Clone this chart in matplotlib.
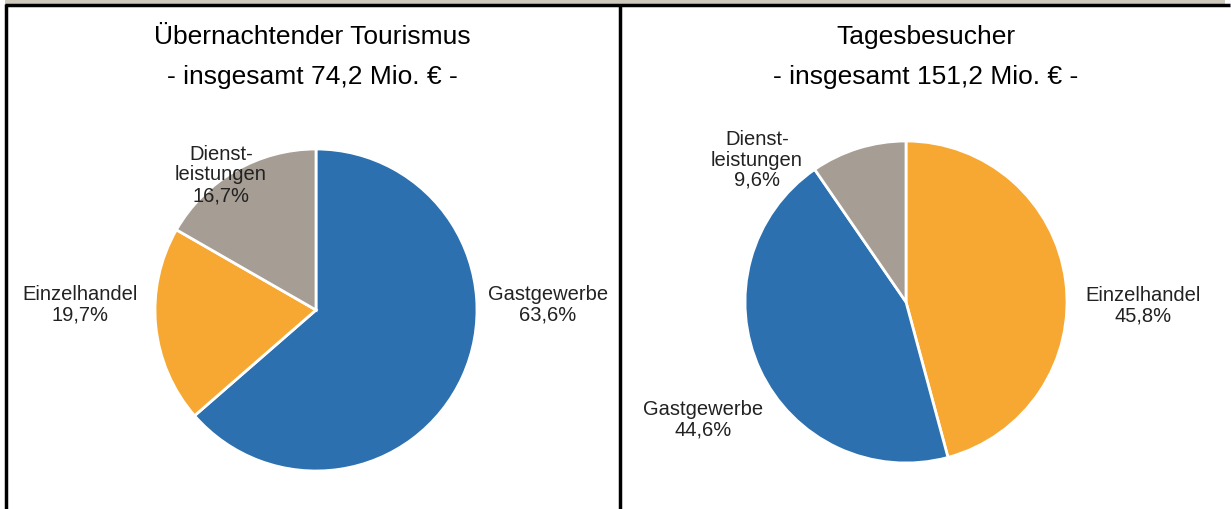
import matplotlib.pyplot as plt
import matplotlib.patches as mpatches

W, H = 1231, 509

# data
left_title = "Übernachtender Tourismus"
left_sub = "- insgesamt 74,2 Mio. € -"
left_labels = ["Gastgewerbe", "Einzelhandel", "Dienst-\nleistungen"]
left_values = [63.6, 19.7, 16.7]

right_title = "Tagesbesucher"
right_sub = "- insgesamt 151,2 Mio. € -"
right_labels = ["Einzelhandel", "Gastgewerbe", "Dienst-\nleistungen"]
right_values = [45.8, 44.6, 9.6]

COLORS = {"Gastgewerbe": "#2c70b0", "Einzelhandel": "#f7a832",
          "Dienst-\nleistungen": "#a69d94"}

plt.rcParams['font.family'] = ['Liberation Sans', 'DejaVu Sans']

fig = plt.figure(figsize=(W / 100, H / 100), dpi=100)
fig.patch.set_facecolor('white')

# background axes in pixel coordinates (table frame + titles)
bg = fig.add_axes([0, 0, 1, 1])
bg.set_xlim(0, W)
bg.set_ylim(H, 0)
bg.axis('off')
bg.add_patch(mpatches.Rectangle((5, 0), 1220, 4, color='#cfc8bd', lw=0))
bg.plot([5, 1230], [5, 5], color='black', lw=2.5, solid_capstyle='butt')
bg.plot([6, 6], [4, H], color='black', lw=2.5, solid_capstyle='butt')
bg.plot([620, 620], [4, H], color='black', lw=2.5, solid_capstyle='butt')

bg.text(312, 37, left_title, ha='center', va='center', fontsize=19)
bg.text(312, 77, left_sub, ha='center', va='center', fontsize=19)
bg.text(926, 37, right_title, ha='center', va='center', fontsize=19)
bg.text(926, 77, right_sub, ha='center', va='center', fontsize=19)

labels_to_draw = []


def draw_pie(cx, cy, r, labels, values, label_pos):
    ax = fig.add_axes([(cx - r) / W, 1 - (cy + r) / H, 2 * r / W, 2 * r / H])
    ax.pie(values, colors=[COLORS[l] for l in labels], startangle=90,
           counterclock=False, radius=1,
           wedgeprops=dict(edgecolor='white', linewidth=2))
    ax.set_xlim(-1, 1)
    ax.set_ylim(-1, 1)
    ax.set_aspect('auto')
    ax.axis('off')
    for lab, val, pos in zip(labels, values, label_pos):
        txt = f"{lab}\n{val:.1f}%".replace('.', ',')
        labels_to_draw.append((pos, txt))


draw_pie(316, 310, 161, left_labels, left_values,
         [(548, 305), (80, 305), (221, 175)])
draw_pie(906, 302, 161, right_labels, right_values,
         [(1143, 306), (703, 420), (757, 160)])

# overlay for the slice labels, on top of the pies
top = fig.add_axes([0, 0, 1, 1])
top.set_xlim(0, W)
top.set_ylim(H, 0)
top.axis('off')
top.patch.set_alpha(0)
for (px, py), txt in labels_to_draw:
    top.text(px, py, txt, ha='center', va='center', fontsize=14.5,
             linespacing=1.1, color='#222222')

fig.savefig('out.png', dpi=100)
